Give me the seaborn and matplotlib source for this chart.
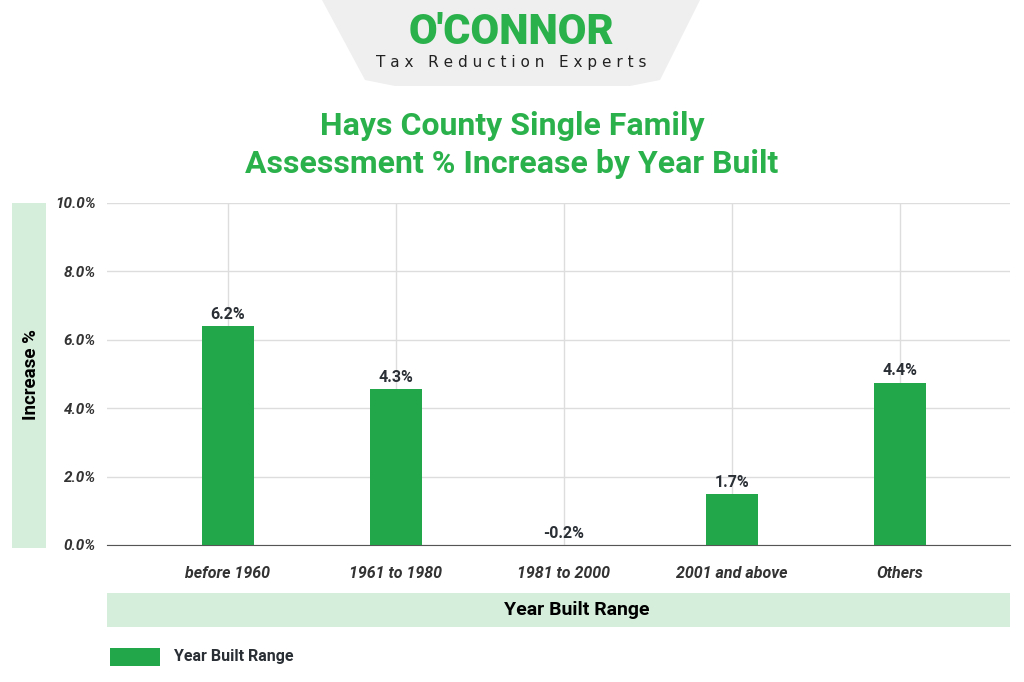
import matplotlib
matplotlib.use("Agg")
import matplotlib.pyplot as plt
import seaborn as sns
import pandas as pd
from matplotlib.patches import Rectangle, Polygon

categories = ["before 1960", "1961 to 1980", "1981 to 2000", "2001 and above", "Others"]
bar_heights = [6.4, 4.55, 0.0, 1.5, 4.75]
value_labels = ["6.2%", "4.3%", "-0.2%", "1.7%", "4.4%"]
yticks = [0, 2, 4, 6, 8, 10]

GREEN = "#22a84a"
TITLE_GREEN = "#2bb14c"
BAND = "#d4eedb"
DARK = "#2a2f35"

df = pd.DataFrame({"cat": categories, "val": bar_heights})

W, H = 1024, 682
fig = plt.figure(figsize=(W/100, H/100), dpi=100)
fig.patch.set_facecolor("white")

def fx(x): return x / W
def fy(y): return 1 - y / H

poly = Polygon([(fx(322), fy(0)), (fx(700), fy(0)), (fx(660), fy(80)), (fx(630), fy(86)),
                (fx(395), fy(86)), (fx(365), fy(80))], closed=True,
               transform=fig.transFigure, facecolor="#efefef", edgecolor="none", zorder=0)
fig.patches.append(poly)
fig.text(fx(511), fy(33), "O'CONNOR", ha="center", va="center", fontsize=30,
         fontweight="heavy", color=TITLE_GREEN, family="Roboto")
fig.text(fx(511), fy(62), "T a x   R e d u c t i o n   E x p e r t s", ha="center", va="center",
         fontsize=11, color="#222222", family="DejaVu Sans")

fig.text(fx(512), fy(145), "Hays County Single Family\nAssessment % Increase by Year Built",
         ha="center", va="center", fontsize=23, fontweight="bold", color=TITLE_GREEN,
         family="Roboto", linespacing=1.3)

ax = fig.add_axes([fx(107), fy(545), fx(1010) - fx(107), (545 - 203) / H])
x_idx = list(range(len(categories)))
sns.barplot(data=df, x="cat", y="val", color=GREEN, width=0.31, saturation=1, ax=ax, zorder=3)
ax.set_xlim(-0.72, 4.655)
ax.set_ylim(0, 10)
ax.set_yticks(yticks)
ax.set_yticklabels([f"{v:.1f}%" for v in yticks], fontsize=11, fontweight="bold",
                   fontstyle="italic", color="#333333", family="Roboto")
ax.set_xticks(x_idx)
ax.set_xticklabels(categories, fontsize=11.5, fontstyle="italic", fontweight="bold",
                   color="#333333", family="Roboto")
ax.tick_params(axis="x", length=0, pad=15)
ax.tick_params(axis="y", length=0, pad=8)
ax.set_xlabel("")
ax.set_ylabel("")
ax.grid(True, color="#dddddd", linewidth=1, zorder=0)
for s in ["top", "right", "left"]:
    ax.spines[s].set_visible(False)
ax.spines["bottom"].set_color("#555555")
for i, (h, lab) in enumerate(zip(bar_heights, value_labels)):
    ax.text(i, max(h, 0) + 0.12, lab, ha="center", va="bottom", fontsize=11.5,
            fontweight="bold", color=DARK, family="Roboto")

fig.patches.append(Rectangle((fx(12), fy(548)), fx(46) - fx(12), (548 - 203) / H,
                             transform=fig.transFigure, facecolor=BAND, edgecolor="none"))
fig.text(fx(31), fy(375), "Increase %", rotation=90, ha="center", va="center",
         fontsize=13.5, fontweight="bold", color="black", family="Roboto")
fig.patches.append(Rectangle((fx(107), fy(627)), fx(1010) - fx(107), (627 - 593) / H,
                             transform=fig.transFigure, facecolor=BAND, edgecolor="none"))
fig.text(fx(577), fy(610), "Year Built Range", ha="center", va="center",
         fontsize=14, fontweight="bold", color="black", family="Roboto")
fig.patches.append(Rectangle((fx(110), fy(666)), fx(160) - fx(110), 18 / H,
                             transform=fig.transFigure, facecolor=GREEN, edgecolor="none"))
fig.text(fx(174), fy(657), "Year Built Range", ha="left", va="center",
         fontsize=11.5, fontweight="bold", color=DARK, family="Roboto")

fig.savefig("out.png", dpi=100)
